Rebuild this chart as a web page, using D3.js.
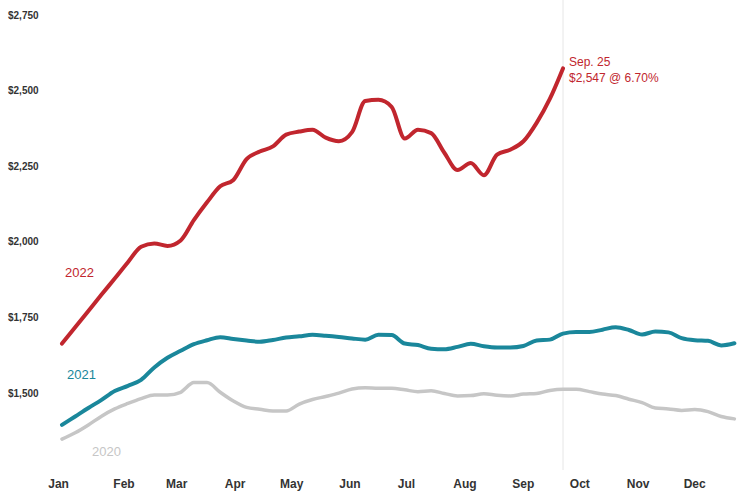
<!DOCTYPE html>
<html>
<head>
<meta charset="utf-8">
<script src="https://cdnjs.cloudflare.com/ajax/libs/d3/7.8.5/d3.min.js"></script>
<style>
  body { margin: 0; background: #fff; }
  svg { display: block; font-family: 'Liberation Sans', Arial, sans-serif; }
  .axis text { fill: #333; font-weight: bold; }
</style>
</head>
<body>
<script>
'use strict';

var width = 746;
var height = 492;

// weekly monthly-payment estimates, first week starting Jan 2
var values2022 = [1637, 1691, 1745, 1799, 1852, 1906, 1957, 1968, 1960, 1978, 2045, 2104, 2157, 2178,
  2247, 2272, 2289, 2328, 2338, 2344, 2318, 2306, 2336, 2439, 2443, 2420, 2315, 2344, 2333, 2268,
  2211, 2234, 2194, 2262, 2278, 2306, 2367, 2446, 2547];
var values2021 = [1368, 1396, 1424, 1451, 1480, 1497, 1517, 1558, 1590, 1613, 1635, 1648, 1658, 1652,
  1647, 1643, 1649, 1657, 1661, 1666, 1663, 1659, 1654, 1650, 1666, 1665, 1637, 1632, 1620, 1618,
  1626, 1636, 1628, 1624, 1624, 1629, 1647, 1650, 1670, 1675, 1675, 1683, 1691, 1682, 1667, 1677,
  1674, 1655, 1648, 1646, 1631, 1638];
var values2020 = [1321, 1342, 1368, 1397, 1421, 1439, 1455, 1467, 1467, 1476, 1508, 1508, 1476, 1447,
  1426, 1420, 1414, 1414, 1437, 1452, 1462, 1473, 1487, 1491, 1489, 1489, 1484, 1478, 1481, 1472,
  1464, 1465, 1471, 1466, 1464, 1470, 1472, 1482, 1486, 1486, 1478, 1470, 1465, 1453, 1442, 1424,
  1421, 1416, 1419, 1412, 1396, 1388];
var yTicks = [1500, 1750, 2000, 2250, 2500, 2750];
var months = ['Jan', 'Feb', 'Mar', 'Apr', 'May', 'Jun', 'Jul', 'Aug', 'Sep', 'Oct', 'Nov', 'Dec'];

var startDate = new Date(2022, 0, 2);
var lastDate = new Date(2022, 8, 25);

var svg = d3.select('body').append('svg').attr('width', width).attr('height', height);

var x = d3.scaleTime().domain([startDate, lastDate]).range([62, 563]);
var y = d3.scaleLinear().domain([1500, 2750]).range([385, 7]);

function toPoints(vals) {
  return vals.map(function (v, i) {
    return { date: d3.timeWeek.offset(startDate, i), value: v };
  });
}

var series = [
  { name: '2020', data: toPoints(values2020), color: '#c6c6c6', width: 3.5, lx: 92, ly: 456 },
  { name: '2021', data: toPoints(values2021), color: '#1a879b', width: 4, lx: 67, ly: 379 },
  { name: '2022', data: toPoints(values2022), color: '#c1262e', width: 4, lx: 65, ly: 277 }
];

// marker for latest week
svg.append('line')
  .attr('x1', x(lastDate)).attr('x2', x(lastDate))
  .attr('y1', 0).attr('y2', 470)
  .attr('stroke', '#e6e6e6').attr('stroke-width', 1);

// y axis labels
var yAxis = svg.append('g').attr('class', 'axis')
  .call(d3.axisLeft(y).tickValues(yTicks).tickSize(0)
    .tickFormat(function (d) { return '$' + d3.format(',')(d); }));
yAxis.select('.domain').remove();
yAxis.selectAll('text')
  .attr('x', 8).attr('dy', '1.1em')
  .attr('text-anchor', 'start')
  .style('font-size', '10px');

// month labels
var monthStarts = d3.timeMonth.range(new Date(2022, 0, 1), new Date(2023, 0, 1));
var xAxis = svg.append('g').attr('class', 'axis')
  .attr('transform', 'translate(0,476)')
  .call(d3.axisBottom(x).tickValues(monthStarts).tickSize(0)
    .tickFormat(function (d, i) { return months[i]; }));
xAxis.select('.domain').remove();
xAxis.selectAll('text')
  .attr('dx', function (d, i) { return i === 0 ? -2 : 5; })
  .style('font-size', '12px');

var line = d3.line()
  .x(function (d) { return x(d.date); })
  .y(function (d) { return y(d.value); })
  .curve(d3.curveMonotoneX);

series.forEach(function (s) {
  svg.append('path')
    .datum(s.data)
    .attr('fill', 'none')
    .attr('stroke', s.color)
    .attr('stroke-width', s.width)
    .attr('stroke-linejoin', 'round')
    .attr('stroke-linecap', 'round')
    .attr('d', line);

  svg.append('text')
    .attr('x', s.lx).attr('y', s.ly)
    .attr('fill', s.color)
    .style('font-size', '13px')
    .text(s.name);
});

// annotation
var note = svg.append('text')
  .attr('x', x(lastDate) + 6).attr('y', 66)
  .attr('fill', '#c1262e')
  .style('font-size', '12px');
note.append('tspan').attr('x', x(lastDate) + 6).text('Sep. 25');
note.append('tspan').attr('x', x(lastDate) + 6).attr('dy', '1.3em').text('$2,547 @ 6.70%');
</script>
</body>
</html>
